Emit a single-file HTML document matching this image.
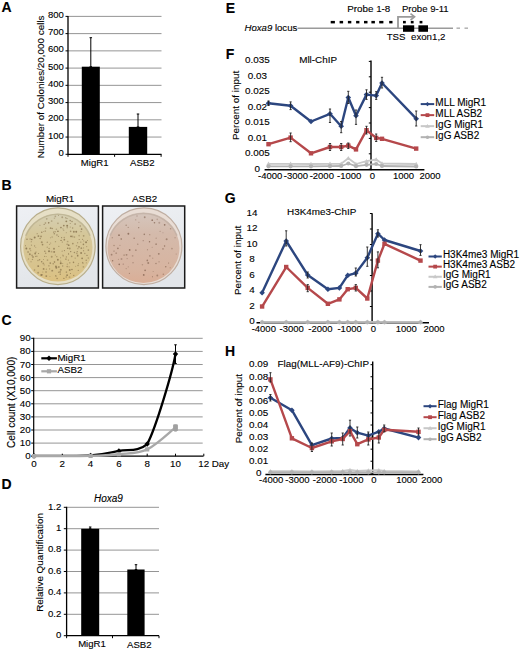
<!DOCTYPE html>
<html><head><meta charset="utf-8"><style>html,body{margin:0;padding:0;background:#fff;width:520px;height:651px;overflow:hidden}svg{display:block}text{font-family:"Liberation Sans",sans-serif;stroke:#000;stroke-width:0.12px;paint-order:stroke}</style></head>
<body><svg width="520" height="651" viewBox="0 0 520 651" font-family="Liberation Sans, sans-serif" fill="#000"><text x="1.50" y="12.30" font-size="14" text-anchor="start" font-weight="bold">A</text>
<text x="1.50" y="190.40" font-size="14" text-anchor="start" font-weight="bold">B</text>
<text x="1.50" y="324.80" font-size="14" text-anchor="start" font-weight="bold">C</text>
<text x="1.50" y="488.80" font-size="14" text-anchor="start" font-weight="bold">D</text>
<text x="225.80" y="12.50" font-size="14" text-anchor="start" font-weight="bold">E</text>
<text x="225.80" y="59.40" font-size="14" text-anchor="start" font-weight="bold">F</text>
<text x="224.80" y="203.00" font-size="14" text-anchor="start" font-weight="bold">G</text>
<text x="225.00" y="355.80" font-size="14" text-anchor="start" font-weight="bold">H</text>
<line x1="68.00" y1="137.06" x2="161.50" y2="137.06" stroke="#959595" stroke-width="1" />
<line x1="68.00" y1="119.82" x2="161.50" y2="119.82" stroke="#959595" stroke-width="1" />
<line x1="68.00" y1="102.58" x2="161.50" y2="102.58" stroke="#959595" stroke-width="1" />
<line x1="68.00" y1="85.34" x2="161.50" y2="85.34" stroke="#959595" stroke-width="1" />
<line x1="68.00" y1="68.10" x2="161.50" y2="68.10" stroke="#959595" stroke-width="1" />
<line x1="68.00" y1="50.86" x2="161.50" y2="50.86" stroke="#959595" stroke-width="1" />
<line x1="68.00" y1="33.62" x2="161.50" y2="33.62" stroke="#959595" stroke-width="1" />
<line x1="68.00" y1="16.38" x2="161.50" y2="16.38" stroke="#959595" stroke-width="1" />
<line x1="65.50" y1="154.30" x2="68.00" y2="154.30" stroke="#000" stroke-width="1" />
<text x="63.80" y="155.80" font-size="9.5" text-anchor="end" >0</text>
<line x1="65.50" y1="137.06" x2="68.00" y2="137.06" stroke="#000" stroke-width="1" />
<text x="63.80" y="138.56" font-size="9.5" text-anchor="end" >100</text>
<line x1="65.50" y1="119.82" x2="68.00" y2="119.82" stroke="#000" stroke-width="1" />
<text x="63.80" y="121.32" font-size="9.5" text-anchor="end" >200</text>
<line x1="65.50" y1="102.58" x2="68.00" y2="102.58" stroke="#000" stroke-width="1" />
<text x="63.80" y="104.08" font-size="9.5" text-anchor="end" >300</text>
<line x1="65.50" y1="85.34" x2="68.00" y2="85.34" stroke="#000" stroke-width="1" />
<text x="63.80" y="86.84" font-size="9.5" text-anchor="end" >400</text>
<line x1="65.50" y1="68.10" x2="68.00" y2="68.10" stroke="#000" stroke-width="1" />
<text x="63.80" y="69.60" font-size="9.5" text-anchor="end" >500</text>
<line x1="65.50" y1="50.86" x2="68.00" y2="50.86" stroke="#000" stroke-width="1" />
<text x="63.80" y="52.36" font-size="9.5" text-anchor="end" >600</text>
<line x1="65.50" y1="33.62" x2="68.00" y2="33.62" stroke="#000" stroke-width="1" />
<text x="63.80" y="35.12" font-size="9.5" text-anchor="end" >700</text>
<line x1="65.50" y1="16.38" x2="68.00" y2="16.38" stroke="#000" stroke-width="1" />
<text x="63.80" y="17.88" font-size="9.5" text-anchor="end" >800</text>
<line x1="68.00" y1="15.88" x2="68.00" y2="154.80" stroke="#000" stroke-width="1.3" />
<line x1="68.00" y1="154.30" x2="161.50" y2="154.30" stroke="#000" stroke-width="1.3" />
<line x1="68.00" y1="154.30" x2="68.00" y2="156.80" stroke="#000" stroke-width="1" />
<line x1="114.60" y1="154.30" x2="114.60" y2="156.80" stroke="#000" stroke-width="1" />
<line x1="161.10" y1="154.30" x2="161.10" y2="156.80" stroke="#000" stroke-width="1" />
<rect x="81.80" y="66.70" width="18.00" height="87.60" fill="#000" />
<rect x="128.80" y="126.90" width="18.40" height="27.40" fill="#000" />
<line x1="90.80" y1="37.70" x2="90.80" y2="66.70" stroke="#000" stroke-width="1" />
<line x1="89.55" y1="37.70" x2="92.05" y2="37.70" stroke="#000" stroke-width="1" />
<line x1="89.55" y1="66.70" x2="92.05" y2="66.70" stroke="#000" stroke-width="1" />
<line x1="138.00" y1="114.00" x2="138.00" y2="126.90" stroke="#000" stroke-width="1" />
<line x1="136.75" y1="114.00" x2="139.25" y2="114.00" stroke="#000" stroke-width="1" />
<line x1="136.75" y1="126.90" x2="139.25" y2="126.90" stroke="#000" stroke-width="1" />
<text x="94.70" y="166.40" font-size="9.6" text-anchor="middle" >MigR1</text>
<text x="142.30" y="166.40" font-size="9.6" text-anchor="middle" >ASB2</text>
<text transform="translate(43.80,86.80) rotate(-90)" font-size="9.9" text-anchor="middle">Number of Colonies/20,000 cells</text>
<line x1="33.70" y1="443.10" x2="202.70" y2="443.10" stroke="#959595" stroke-width="1" />
<line x1="33.70" y1="430.00" x2="202.70" y2="430.00" stroke="#959595" stroke-width="1" />
<line x1="33.70" y1="416.90" x2="202.70" y2="416.90" stroke="#959595" stroke-width="1" />
<line x1="33.70" y1="403.80" x2="202.70" y2="403.80" stroke="#959595" stroke-width="1" />
<line x1="33.70" y1="390.70" x2="202.70" y2="390.70" stroke="#959595" stroke-width="1" />
<line x1="33.70" y1="377.60" x2="202.70" y2="377.60" stroke="#959595" stroke-width="1" />
<line x1="33.70" y1="364.50" x2="202.70" y2="364.50" stroke="#959595" stroke-width="1" />
<line x1="33.70" y1="351.40" x2="202.70" y2="351.40" stroke="#959595" stroke-width="1" />
<line x1="33.70" y1="338.30" x2="202.70" y2="338.30" stroke="#959595" stroke-width="1" />
<line x1="31.20" y1="456.20" x2="33.70" y2="456.20" stroke="#000" stroke-width="1" />
<text x="30.60" y="459.20" font-size="9.8" text-anchor="end" >0</text>
<line x1="31.20" y1="443.10" x2="33.70" y2="443.10" stroke="#000" stroke-width="1" />
<text x="30.60" y="446.10" font-size="9.8" text-anchor="end" >10</text>
<line x1="31.20" y1="430.00" x2="33.70" y2="430.00" stroke="#000" stroke-width="1" />
<text x="30.60" y="433.00" font-size="9.8" text-anchor="end" >20</text>
<line x1="31.20" y1="416.90" x2="33.70" y2="416.90" stroke="#000" stroke-width="1" />
<text x="30.60" y="419.90" font-size="9.8" text-anchor="end" >30</text>
<line x1="31.20" y1="403.80" x2="33.70" y2="403.80" stroke="#000" stroke-width="1" />
<text x="30.60" y="406.80" font-size="9.8" text-anchor="end" >40</text>
<line x1="31.20" y1="390.70" x2="33.70" y2="390.70" stroke="#000" stroke-width="1" />
<text x="30.60" y="393.70" font-size="9.8" text-anchor="end" >50</text>
<line x1="31.20" y1="377.60" x2="33.70" y2="377.60" stroke="#000" stroke-width="1" />
<text x="30.60" y="380.60" font-size="9.8" text-anchor="end" >60</text>
<line x1="31.20" y1="364.50" x2="33.70" y2="364.50" stroke="#000" stroke-width="1" />
<text x="30.60" y="367.50" font-size="9.8" text-anchor="end" >70</text>
<line x1="31.20" y1="351.40" x2="33.70" y2="351.40" stroke="#000" stroke-width="1" />
<text x="30.60" y="354.40" font-size="9.8" text-anchor="end" >80</text>
<line x1="31.20" y1="338.30" x2="33.70" y2="338.30" stroke="#000" stroke-width="1" />
<text x="30.60" y="341.30" font-size="9.8" text-anchor="end" >90</text>
<line x1="33.70" y1="337.80" x2="33.70" y2="456.70" stroke="#000" stroke-width="1.2" />
<line x1="33.70" y1="456.20" x2="203.50" y2="456.20" stroke="#000" stroke-width="1.2" />
<line x1="34.00" y1="456.20" x2="34.00" y2="453.70" stroke="#000" stroke-width="1" />
<text x="34.00" y="467.40" font-size="9.8" text-anchor="middle" >0</text>
<line x1="62.30" y1="456.20" x2="62.30" y2="453.70" stroke="#000" stroke-width="1" />
<text x="62.30" y="467.40" font-size="9.8" text-anchor="middle" >2</text>
<line x1="90.60" y1="456.20" x2="90.60" y2="453.70" stroke="#000" stroke-width="1" />
<text x="90.60" y="467.40" font-size="9.8" text-anchor="middle" >4</text>
<line x1="118.90" y1="456.20" x2="118.90" y2="453.70" stroke="#000" stroke-width="1" />
<text x="118.90" y="467.40" font-size="9.8" text-anchor="middle" >6</text>
<line x1="147.20" y1="456.20" x2="147.20" y2="453.70" stroke="#000" stroke-width="1" />
<text x="147.20" y="467.40" font-size="9.8" text-anchor="middle" >8</text>
<line x1="175.50" y1="456.20" x2="175.50" y2="453.70" stroke="#000" stroke-width="1" />
<text x="175.50" y="467.40" font-size="9.8" text-anchor="middle" >10</text>
<line x1="203.80" y1="456.20" x2="203.80" y2="453.70" stroke="#000" stroke-width="1" />
<text x="203.80" y="467.40" font-size="9.8" text-anchor="middle" >12</text>
<text x="211.80" y="467.40" font-size="9.8" text-anchor="start" >Day</text>
<text transform="translate(15.30,402.30) rotate(-90)" font-size="10" text-anchor="middle">Cell count (X10,000)</text>
<line x1="175.50" y1="344.80" x2="175.50" y2="363.50" stroke="#000" stroke-width="1" />
<line x1="174.25" y1="344.80" x2="176.75" y2="344.80" stroke="#000" stroke-width="1" />
<line x1="174.25" y1="363.50" x2="176.75" y2="363.50" stroke="#000" stroke-width="1" />
<path d="M34.00,455.94 C43.43,455.85 76.45,456.24 90.60,455.41 C104.75,454.58 109.47,452.86 118.90,450.96 C128.33,449.06 137.77,452.16 147.20,444.02 C155.60,428.80 172.60,371.50 175.50,354.02" fill="none" stroke="#000" stroke-width="2.3"/>
<path d="M34.00,453.24 L36.70,455.94 L34.00,458.64 L31.30,455.94Z" fill="#000"/>
<path d="M90.60,452.71 L93.30,455.41 L90.60,458.11 L87.90,455.41Z" fill="#000"/>
<path d="M118.90,448.26 L121.60,450.96 L118.90,453.66 L116.20,450.96Z" fill="#000"/>
<path d="M147.20,441.32 L149.90,444.02 L147.20,446.72 L144.50,444.02Z" fill="#000"/>
<path d="M175.50,351.32 L178.20,354.02 L175.50,356.72 L172.80,354.02Z" fill="#000"/>
<line x1="175.50" y1="425.00" x2="175.50" y2="431.00" stroke="#8a8a8a" stroke-width="1" />
<line x1="174.25" y1="425.00" x2="176.75" y2="425.00" stroke="#8a8a8a" stroke-width="1" />
<line x1="174.25" y1="431.00" x2="176.75" y2="431.00" stroke="#8a8a8a" stroke-width="1" />
<path d="M34.00,456.07 C43.43,456.05 76.45,456.24 90.60,455.94 C104.75,455.63 109.47,455.33 118.90,454.24 C128.33,453.14 137.77,453.86 147.20,449.39 C156.63,444.91 170.78,431.05 175.50,427.38" fill="none" stroke="#a8a8a8" stroke-width="2.3"/>
<rect x="31.90" y="453.97" width="4.20" height="4.20" fill="#a8a8a8" />
<rect x="88.50" y="453.84" width="4.20" height="4.20" fill="#a8a8a8" />
<rect x="116.80" y="452.13" width="4.20" height="4.20" fill="#a8a8a8" />
<rect x="145.10" y="447.29" width="4.20" height="4.20" fill="#a8a8a8" />
<rect x="173.40" y="425.28" width="4.20" height="4.20" fill="#a8a8a8" />
<rect x="173.20" y="424.50" width="4.60" height="6.50" fill="#a0a0a0" />
<line x1="41.30" y1="358.30" x2="56.90" y2="358.30" stroke="#000" stroke-width="2.2" />
<path d="M49,355.6 L51.7,358.3 L49,361 L46.3,358.3Z" fill="#000"/>
<text x="57.40" y="360.70" font-size="9.8" text-anchor="start" >MigR1</text>
<line x1="41.30" y1="371.30" x2="56.90" y2="371.30" stroke="#a8a8a8" stroke-width="2.2" />
<rect x="46.90" y="369.20" width="4.20" height="4.20" fill="#a8a8a8" />
<text x="57.40" y="373.40" font-size="9.8" text-anchor="start" >ASB2</text>
<line x1="66.60" y1="614.30" x2="159.00" y2="614.30" stroke="#959595" stroke-width="1" />
<line x1="66.60" y1="592.90" x2="159.00" y2="592.90" stroke="#959595" stroke-width="1" />
<line x1="66.60" y1="571.50" x2="159.00" y2="571.50" stroke="#959595" stroke-width="1" />
<line x1="66.60" y1="550.10" x2="159.00" y2="550.10" stroke="#959595" stroke-width="1" />
<line x1="66.60" y1="528.70" x2="159.00" y2="528.70" stroke="#959595" stroke-width="1" />
<line x1="66.60" y1="507.30" x2="159.00" y2="507.30" stroke="#959595" stroke-width="1" />
<line x1="63.80" y1="635.70" x2="66.60" y2="635.70" stroke="#000" stroke-width="1" />
<text x="61.30" y="637.90" font-size="9.6" text-anchor="end" >0</text>
<line x1="63.80" y1="614.30" x2="66.60" y2="614.30" stroke="#000" stroke-width="1" />
<text x="61.30" y="616.50" font-size="9.6" text-anchor="end" >0.2</text>
<line x1="63.80" y1="592.90" x2="66.60" y2="592.90" stroke="#000" stroke-width="1" />
<text x="61.30" y="595.10" font-size="9.6" text-anchor="end" >0.4</text>
<line x1="63.80" y1="571.50" x2="66.60" y2="571.50" stroke="#000" stroke-width="1" />
<text x="61.30" y="573.70" font-size="9.6" text-anchor="end" >0.6</text>
<line x1="63.80" y1="550.10" x2="66.60" y2="550.10" stroke="#000" stroke-width="1" />
<text x="61.30" y="552.30" font-size="9.6" text-anchor="end" >0.8</text>
<line x1="63.80" y1="528.70" x2="66.60" y2="528.70" stroke="#000" stroke-width="1" />
<text x="61.30" y="530.90" font-size="9.6" text-anchor="end" >1</text>
<line x1="63.80" y1="507.30" x2="66.60" y2="507.30" stroke="#000" stroke-width="1" />
<text x="61.30" y="509.50" font-size="9.6" text-anchor="end" >1.2</text>
<line x1="66.60" y1="506.80" x2="66.60" y2="636.20" stroke="#000" stroke-width="1.3" />
<line x1="66.60" y1="635.70" x2="159.00" y2="635.70" stroke="#000" stroke-width="1.3" />
<line x1="66.60" y1="635.70" x2="66.60" y2="638.20" stroke="#000" stroke-width="1" />
<line x1="112.50" y1="635.70" x2="112.50" y2="638.20" stroke="#000" stroke-width="1" />
<line x1="159.00" y1="635.70" x2="159.00" y2="638.20" stroke="#000" stroke-width="1" />
<rect x="81.20" y="528.80" width="18.00" height="106.90" fill="#000" />
<rect x="127.30" y="569.50" width="17.30" height="66.20" fill="#000" />
<line x1="90.20" y1="527.00" x2="90.20" y2="528.80" stroke="#000" stroke-width="1" />
<line x1="88.95" y1="527.00" x2="91.45" y2="527.00" stroke="#000" stroke-width="1" />
<line x1="88.95" y1="528.80" x2="91.45" y2="528.80" stroke="#000" stroke-width="1" />
<line x1="136.00" y1="564.70" x2="136.00" y2="569.50" stroke="#000" stroke-width="1" />
<line x1="134.75" y1="564.70" x2="137.25" y2="564.70" stroke="#000" stroke-width="1" />
<line x1="134.75" y1="569.50" x2="137.25" y2="569.50" stroke="#000" stroke-width="1" />
<text x="92.00" y="647.40" font-size="9.6" text-anchor="middle" >MigR1</text>
<text x="139.30" y="648.00" font-size="9.6" text-anchor="middle" >ASB2</text>
<text x="108.40" y="502.20" font-size="10" text-anchor="middle" font-style="italic">Hoxa9</text>
<text transform="translate(42.70,562.40) rotate(-90)" font-size="9.9" text-anchor="middle">Relative Quantification</text>
<text x="244.50" y="31.30" font-size="9.6" text-anchor="start" ><tspan font-style="italic">Hoxa9</tspan> locus</text>
<line x1="297.50" y1="28.20" x2="453.00" y2="28.20" stroke="#9a9a9a" stroke-width="1.6" />
<line x1="456.50" y1="28.20" x2="460.00" y2="28.20" stroke="#b5b5b5" stroke-width="1.6" />
<line x1="464.50" y1="28.20" x2="468.00" y2="28.20" stroke="#b5b5b5" stroke-width="1.6" />
<rect x="330.70" y="20.90" width="4.20" height="2.50" fill="#000" />
<rect x="339.60" y="20.90" width="3.50" height="2.50" fill="#000" />
<rect x="347.90" y="20.90" width="3.40" height="2.50" fill="#000" />
<rect x="356.10" y="20.90" width="3.30" height="2.50" fill="#000" />
<rect x="364.00" y="20.90" width="3.50" height="2.50" fill="#000" />
<rect x="371.40" y="20.90" width="3.50" height="2.50" fill="#000" />
<rect x="379.20" y="20.90" width="4.20" height="2.50" fill="#000" />
<rect x="389.20" y="20.90" width="3.30" height="2.50" fill="#000" />
<rect x="403.00" y="20.90" width="2.80" height="2.50" fill="#000" />
<rect x="410.80" y="20.90" width="2.80" height="2.50" fill="#000" />
<rect x="419.60" y="20.90" width="2.80" height="2.50" fill="#000" />
<path d="M398,28 L398,16.8 L413.5,16.8" fill="none" stroke="#9a9a9a" stroke-width="1.8"/>
<path d="M410.5,13.6 L414.6,16.8 L410.5,20" fill="none" stroke="#9a9a9a" stroke-width="1.6"/>
<rect x="403.00" y="25.30" width="11.20" height="6.50" fill="#000" />
<rect x="418.40" y="25.30" width="9.60" height="6.50" fill="#000" />
<text x="347.30" y="12.40" font-size="9.8" text-anchor="start" >Probe 1-8</text>
<text x="401.90" y="12.30" font-size="9.6" text-anchor="start" >Probe 9-11</text>
<text x="386.70" y="40.30" font-size="9.7" text-anchor="start" >TSS</text>
<text x="411.00" y="40.30" font-size="9.7" text-anchor="start" >exon1,2</text>
<line x1="371.00" y1="60.50" x2="371.00" y2="170.20" stroke="#000" stroke-width="1.4" />
<line x1="368.80" y1="169.20" x2="371.00" y2="169.20" stroke="#000" stroke-width="1" />
<text x="257.30" y="171.94" font-size="9.9" text-anchor="middle" >0</text>
<line x1="368.80" y1="153.80" x2="371.00" y2="153.80" stroke="#000" stroke-width="1" />
<text x="257.30" y="156.44" font-size="9.9" text-anchor="middle" >0.005</text>
<line x1="368.80" y1="138.40" x2="371.00" y2="138.40" stroke="#000" stroke-width="1" />
<text x="257.30" y="140.94" font-size="9.9" text-anchor="middle" >0.01</text>
<line x1="368.80" y1="123.00" x2="371.00" y2="123.00" stroke="#000" stroke-width="1" />
<text x="257.30" y="125.44" font-size="9.9" text-anchor="middle" >0.015</text>
<line x1="368.80" y1="107.60" x2="371.00" y2="107.60" stroke="#000" stroke-width="1" />
<text x="257.30" y="109.94" font-size="9.9" text-anchor="middle" >0.02</text>
<line x1="368.80" y1="92.20" x2="371.00" y2="92.20" stroke="#000" stroke-width="1" />
<text x="257.30" y="94.44" font-size="9.9" text-anchor="middle" >0.025</text>
<line x1="368.80" y1="76.80" x2="371.00" y2="76.80" stroke="#000" stroke-width="1" />
<text x="257.30" y="78.94" font-size="9.9" text-anchor="middle" >0.03</text>
<line x1="368.80" y1="61.40" x2="371.00" y2="61.40" stroke="#000" stroke-width="1" />
<text x="257.30" y="63.44" font-size="9.9" text-anchor="middle" >0.035</text>
<line x1="264.60" y1="169.70" x2="424.40" y2="169.70" stroke="#000" stroke-width="1.5" />
<text x="270.20" y="179.40" font-size="9.5" text-anchor="middle" >-4000</text>
<text x="296.00" y="179.40" font-size="9.5" text-anchor="middle" >-3000</text>
<text x="321.80" y="179.40" font-size="9.5" text-anchor="middle" >-2000</text>
<text x="349.20" y="179.40" font-size="9.5" text-anchor="middle" >-1000</text>
<text x="372.50" y="179.40" font-size="9.5" text-anchor="middle" >0</text>
<text x="403.50" y="179.40" font-size="9.5" text-anchor="middle" >1000</text>
<text x="430.00" y="179.40" font-size="9.5" text-anchor="middle" >2000</text>
<polyline points="268.50,163.80 290.60,163.80 311.00,164.00 330.00,163.80 341.20,163.80 348.30,158.20 356.00,164.00 366.50,161.20 376.20,159.50 382.00,163.50 416.20,164.00" fill="none" stroke="#c8c8c8" stroke-width="1.8" stroke-linejoin="round" />
<path d="M268.50,161.50 L270.80,165.60 L266.20,165.60Z" fill="#c8c8c8"/>
<path d="M290.60,161.50 L292.90,165.60 L288.30,165.60Z" fill="#c8c8c8"/>
<path d="M311.00,161.70 L313.30,165.80 L308.70,165.80Z" fill="#c8c8c8"/>
<path d="M330.00,161.50 L332.30,165.60 L327.70,165.60Z" fill="#c8c8c8"/>
<path d="M341.20,161.50 L343.50,165.60 L338.90,165.60Z" fill="#c8c8c8"/>
<path d="M348.30,155.90 L350.60,160.00 L346.00,160.00Z" fill="#c8c8c8"/>
<path d="M356.00,161.70 L358.30,165.80 L353.70,165.80Z" fill="#c8c8c8"/>
<path d="M366.50,158.90 L368.80,163.00 L364.20,163.00Z" fill="#c8c8c8"/>
<path d="M376.20,157.20 L378.50,161.30 L373.90,161.30Z" fill="#c8c8c8"/>
<path d="M382.00,161.20 L384.30,165.30 L379.70,165.30Z" fill="#c8c8c8"/>
<path d="M416.20,161.70 L418.50,165.80 L413.90,165.80Z" fill="#c8c8c8"/>
<polyline points="268.50,166.30 290.60,166.30 311.00,166.30 330.00,166.20 341.20,166.00 348.30,163.50 356.00,166.20 366.50,164.80 376.20,164.00 382.00,166.00 416.20,166.50" fill="none" stroke="#b2b2b2" stroke-width="1.8" stroke-linejoin="round" />
<circle cx="268.50" cy="166.30" r="2.1" fill="#b2b2b2"/>
<circle cx="290.60" cy="166.30" r="2.1" fill="#b2b2b2"/>
<circle cx="311.00" cy="166.30" r="2.1" fill="#b2b2b2"/>
<circle cx="330.00" cy="166.20" r="2.1" fill="#b2b2b2"/>
<circle cx="341.20" cy="166.00" r="2.1" fill="#b2b2b2"/>
<circle cx="348.30" cy="163.50" r="2.1" fill="#b2b2b2"/>
<circle cx="356.00" cy="166.20" r="2.1" fill="#b2b2b2"/>
<circle cx="366.50" cy="164.80" r="2.1" fill="#b2b2b2"/>
<circle cx="376.20" cy="164.00" r="2.1" fill="#b2b2b2"/>
<circle cx="382.00" cy="166.00" r="2.1" fill="#b2b2b2"/>
<circle cx="416.20" cy="166.50" r="2.1" fill="#b2b2b2"/>
<polyline points="268.50,103.30 290.60,105.80 311.00,121.50 330.00,113.80 341.20,126.30 348.30,97.50 356.00,115.80 366.50,94.60 376.20,95.60 382.00,83.00 416.20,118.70" fill="none" stroke="#2c467f" stroke-width="2.4" stroke-linejoin="round" />
<path d="M268.50,100.50 L271.30,103.30 L268.50,106.10 L265.70,103.30Z" fill="#2c467f"/>
<path d="M290.60,103.00 L293.40,105.80 L290.60,108.60 L287.80,105.80Z" fill="#2c467f"/>
<path d="M311.00,118.70 L313.80,121.50 L311.00,124.30 L308.20,121.50Z" fill="#2c467f"/>
<path d="M330.00,111.00 L332.80,113.80 L330.00,116.60 L327.20,113.80Z" fill="#2c467f"/>
<path d="M341.20,123.50 L344.00,126.30 L341.20,129.10 L338.40,126.30Z" fill="#2c467f"/>
<path d="M348.30,94.70 L351.10,97.50 L348.30,100.30 L345.50,97.50Z" fill="#2c467f"/>
<path d="M356.00,113.00 L358.80,115.80 L356.00,118.60 L353.20,115.80Z" fill="#2c467f"/>
<path d="M366.50,91.80 L369.30,94.60 L366.50,97.40 L363.70,94.60Z" fill="#2c467f"/>
<path d="M376.20,92.80 L379.00,95.60 L376.20,98.40 L373.40,95.60Z" fill="#2c467f"/>
<path d="M382.00,80.20 L384.80,83.00 L382.00,85.80 L379.20,83.00Z" fill="#2c467f"/>
<path d="M416.20,115.90 L419.00,118.70 L416.20,121.50 L413.40,118.70Z" fill="#2c467f"/>
<polyline points="268.50,144.20 290.60,137.60 311.00,153.30 330.00,147.00 341.20,147.00 348.30,145.60 356.00,149.40 366.50,130.20 376.20,137.90 382.00,138.80 416.20,148.60" fill="none" stroke="#b5484b" stroke-width="2.4" stroke-linejoin="round" />
<rect x="266.30" y="142.00" width="4.40" height="4.40" fill="#b5484b" />
<rect x="288.40" y="135.40" width="4.40" height="4.40" fill="#b5484b" />
<rect x="308.80" y="151.10" width="4.40" height="4.40" fill="#b5484b" />
<rect x="327.80" y="144.80" width="4.40" height="4.40" fill="#b5484b" />
<rect x="339.00" y="144.80" width="4.40" height="4.40" fill="#b5484b" />
<rect x="346.10" y="143.40" width="4.40" height="4.40" fill="#b5484b" />
<rect x="353.80" y="147.20" width="4.40" height="4.40" fill="#b5484b" />
<rect x="364.30" y="128.00" width="4.40" height="4.40" fill="#b5484b" />
<rect x="374.00" y="135.70" width="4.40" height="4.40" fill="#b5484b" />
<rect x="379.80" y="136.60" width="4.40" height="4.40" fill="#b5484b" />
<rect x="414.00" y="146.40" width="4.40" height="4.40" fill="#b5484b" />
<line x1="268.50" y1="101.00" x2="268.50" y2="105.50" stroke="#222" stroke-width="0.9" />
<line x1="267.40" y1="101.00" x2="269.60" y2="101.00" stroke="#222" stroke-width="0.9" />
<line x1="267.40" y1="105.50" x2="269.60" y2="105.50" stroke="#222" stroke-width="0.9" />
<line x1="290.60" y1="101.90" x2="290.60" y2="109.60" stroke="#222" stroke-width="0.9" />
<line x1="289.50" y1="101.90" x2="291.70" y2="101.90" stroke="#222" stroke-width="0.9" />
<line x1="289.50" y1="109.60" x2="291.70" y2="109.60" stroke="#222" stroke-width="0.9" />
<line x1="330.00" y1="109.00" x2="330.00" y2="122.50" stroke="#222" stroke-width="0.9" />
<line x1="328.90" y1="109.00" x2="331.10" y2="109.00" stroke="#222" stroke-width="0.9" />
<line x1="328.90" y1="122.50" x2="331.10" y2="122.50" stroke="#222" stroke-width="0.9" />
<line x1="341.20" y1="121.50" x2="341.20" y2="132.70" stroke="#222" stroke-width="0.9" />
<line x1="340.10" y1="121.50" x2="342.30" y2="121.50" stroke="#222" stroke-width="0.9" />
<line x1="340.10" y1="132.70" x2="342.30" y2="132.70" stroke="#222" stroke-width="0.9" />
<line x1="348.30" y1="91.30" x2="348.30" y2="103.50" stroke="#222" stroke-width="0.9" />
<line x1="347.20" y1="91.30" x2="349.40" y2="91.30" stroke="#222" stroke-width="0.9" />
<line x1="347.20" y1="103.50" x2="349.40" y2="103.50" stroke="#222" stroke-width="0.9" />
<line x1="356.00" y1="110.00" x2="356.00" y2="124.40" stroke="#222" stroke-width="0.9" />
<line x1="354.90" y1="110.00" x2="357.10" y2="110.00" stroke="#222" stroke-width="0.9" />
<line x1="354.90" y1="124.40" x2="357.10" y2="124.40" stroke="#222" stroke-width="0.9" />
<line x1="366.50" y1="89.80" x2="366.50" y2="99.40" stroke="#222" stroke-width="0.9" />
<line x1="365.40" y1="89.80" x2="367.60" y2="89.80" stroke="#222" stroke-width="0.9" />
<line x1="365.40" y1="99.40" x2="367.60" y2="99.40" stroke="#222" stroke-width="0.9" />
<line x1="376.20" y1="91.70" x2="376.20" y2="99.40" stroke="#222" stroke-width="0.9" />
<line x1="375.10" y1="91.70" x2="377.30" y2="91.70" stroke="#222" stroke-width="0.9" />
<line x1="375.10" y1="99.40" x2="377.30" y2="99.40" stroke="#222" stroke-width="0.9" />
<line x1="382.00" y1="77.30" x2="382.00" y2="88.00" stroke="#222" stroke-width="0.9" />
<line x1="380.90" y1="77.30" x2="383.10" y2="77.30" stroke="#222" stroke-width="0.9" />
<line x1="380.90" y1="88.00" x2="383.10" y2="88.00" stroke="#222" stroke-width="0.9" />
<line x1="416.20" y1="111.00" x2="416.20" y2="126.00" stroke="#222" stroke-width="0.9" />
<line x1="415.10" y1="111.00" x2="417.30" y2="111.00" stroke="#222" stroke-width="0.9" />
<line x1="415.10" y1="126.00" x2="417.30" y2="126.00" stroke="#222" stroke-width="0.9" />
<line x1="290.60" y1="133.00" x2="290.60" y2="141.70" stroke="#222" stroke-width="0.9" />
<line x1="289.50" y1="133.00" x2="291.70" y2="133.00" stroke="#222" stroke-width="0.9" />
<line x1="289.50" y1="141.70" x2="291.70" y2="141.70" stroke="#222" stroke-width="0.9" />
<line x1="366.50" y1="126.30" x2="366.50" y2="134.00" stroke="#222" stroke-width="0.9" />
<line x1="365.40" y1="126.30" x2="367.60" y2="126.30" stroke="#222" stroke-width="0.9" />
<line x1="365.40" y1="134.00" x2="367.60" y2="134.00" stroke="#222" stroke-width="0.9" />
<line x1="376.20" y1="134.00" x2="376.20" y2="141.50" stroke="#222" stroke-width="0.9" />
<line x1="375.10" y1="134.00" x2="377.30" y2="134.00" stroke="#222" stroke-width="0.9" />
<line x1="375.10" y1="141.50" x2="377.30" y2="141.50" stroke="#222" stroke-width="0.9" />
<line x1="330.00" y1="143.50" x2="330.00" y2="150.50" stroke="#222" stroke-width="0.9" />
<line x1="328.90" y1="143.50" x2="331.10" y2="143.50" stroke="#222" stroke-width="0.9" />
<line x1="328.90" y1="150.50" x2="331.10" y2="150.50" stroke="#222" stroke-width="0.9" />
<line x1="341.20" y1="143.50" x2="341.20" y2="150.50" stroke="#222" stroke-width="0.9" />
<line x1="340.10" y1="143.50" x2="342.30" y2="143.50" stroke="#222" stroke-width="0.9" />
<line x1="340.10" y1="150.50" x2="342.30" y2="150.50" stroke="#222" stroke-width="0.9" />
<line x1="348.30" y1="143.00" x2="348.30" y2="148.50" stroke="#222" stroke-width="0.9" />
<line x1="347.20" y1="143.00" x2="349.40" y2="143.00" stroke="#222" stroke-width="0.9" />
<line x1="347.20" y1="148.50" x2="349.40" y2="148.50" stroke="#222" stroke-width="0.9" />
<line x1="420.70" y1="104.10" x2="434.20" y2="104.10" stroke="#2c467f" stroke-width="2" />
<path d="M427.45,101.90 L429.65,104.10 L427.45,106.30 L425.25,104.10Z" fill="#2c467f"/>
<text x="435.30" y="105.60" font-size="10" text-anchor="start" >MLL MigR1</text>
<line x1="420.70" y1="115.13" x2="434.20" y2="115.13" stroke="#b5484b" stroke-width="2" />
<rect x="425.55" y="113.23" width="3.80" height="3.80" fill="#b5484b" />
<text x="435.30" y="116.63" font-size="10" text-anchor="start" >MLL ASB2</text>
<line x1="420.70" y1="126.16" x2="434.20" y2="126.16" stroke="#c8c8c8" stroke-width="2" />
<path d="M427.45,123.96 L429.75,127.76 L425.15,127.76Z" fill="#c8c8c8"/>
<text x="435.30" y="127.66" font-size="10" text-anchor="start" >IgG MigR1</text>
<line x1="420.70" y1="137.19" x2="434.20" y2="137.19" stroke="#b2b2b2" stroke-width="2" />
<circle cx="427.45" cy="137.19" r="1.8" fill="#b2b2b2"/>
<text x="435.30" y="138.69" font-size="10" text-anchor="start" >IgG ASB2</text>
<text x="299.20" y="62.70" font-size="9.9" text-anchor="start" >Mll-ChIP</text>
<text transform="translate(239.00,105.40) rotate(-90)" font-size="9.9" text-anchor="middle">Percent of input</text>
<line x1="372.10" y1="213.30" x2="372.10" y2="323.30" stroke="#000" stroke-width="1.4" />
<line x1="369.90" y1="322.00" x2="372.10" y2="322.00" stroke="#000" stroke-width="1" />
<text x="252.00" y="324.34" font-size="9.9" text-anchor="middle" >0</text>
<line x1="369.90" y1="306.50" x2="372.10" y2="306.50" stroke="#000" stroke-width="1" />
<text x="252.00" y="308.84" font-size="9.9" text-anchor="middle" >2</text>
<line x1="369.90" y1="291.00" x2="372.10" y2="291.00" stroke="#000" stroke-width="1" />
<text x="252.00" y="293.34" font-size="9.9" text-anchor="middle" >4</text>
<line x1="369.90" y1="275.50" x2="372.10" y2="275.50" stroke="#000" stroke-width="1" />
<text x="252.00" y="277.84" font-size="9.9" text-anchor="middle" >6</text>
<line x1="369.90" y1="260.00" x2="372.10" y2="260.00" stroke="#000" stroke-width="1" />
<text x="252.00" y="262.34" font-size="9.9" text-anchor="middle" >8</text>
<line x1="369.90" y1="244.50" x2="372.10" y2="244.50" stroke="#000" stroke-width="1" />
<text x="252.00" y="246.84" font-size="9.9" text-anchor="middle" >10</text>
<line x1="369.90" y1="229.00" x2="372.10" y2="229.00" stroke="#000" stroke-width="1" />
<text x="252.00" y="231.34" font-size="9.9" text-anchor="middle" >12</text>
<line x1="369.90" y1="213.50" x2="372.10" y2="213.50" stroke="#000" stroke-width="1" />
<text x="252.00" y="215.84" font-size="9.9" text-anchor="middle" >14</text>
<line x1="256.50" y1="322.80" x2="429.00" y2="322.80" stroke="#000" stroke-width="1.5" />
<text x="263.80" y="332.30" font-size="9.5" text-anchor="middle" >-4000</text>
<text x="291.70" y="332.30" font-size="9.5" text-anchor="middle" >-3000</text>
<text x="320.50" y="332.30" font-size="9.5" text-anchor="middle" >-2000</text>
<text x="349.60" y="332.30" font-size="9.5" text-anchor="middle" >-1000</text>
<text x="373.30" y="332.30" font-size="9.5" text-anchor="middle" >0</text>
<text x="406.30" y="332.30" font-size="9.5" text-anchor="middle" >1000</text>
<text x="434.00" y="332.30" font-size="9.5" text-anchor="middle" >2000</text>
<polyline points="262.10,321.80 286.20,321.80 307.70,321.80 327.90,321.80 339.40,321.80 347.70,321.80 355.80,321.80 367.30,321.80 377.90,321.80 384.50,321.80 420.50,321.80" fill="none" stroke="#c8c8c8" stroke-width="1.8" stroke-linejoin="round" />
<path d="M262.10,319.50 L264.40,323.60 L259.80,323.60Z" fill="#c8c8c8"/>
<path d="M286.20,319.50 L288.50,323.60 L283.90,323.60Z" fill="#c8c8c8"/>
<path d="M307.70,319.50 L310.00,323.60 L305.40,323.60Z" fill="#c8c8c8"/>
<path d="M327.90,319.50 L330.20,323.60 L325.60,323.60Z" fill="#c8c8c8"/>
<path d="M339.40,319.50 L341.70,323.60 L337.10,323.60Z" fill="#c8c8c8"/>
<path d="M347.70,319.50 L350.00,323.60 L345.40,323.60Z" fill="#c8c8c8"/>
<path d="M355.80,319.50 L358.10,323.60 L353.50,323.60Z" fill="#c8c8c8"/>
<path d="M367.30,319.50 L369.60,323.60 L365.00,323.60Z" fill="#c8c8c8"/>
<path d="M377.90,319.50 L380.20,323.60 L375.60,323.60Z" fill="#c8c8c8"/>
<path d="M384.50,319.50 L386.80,323.60 L382.20,323.60Z" fill="#c8c8c8"/>
<path d="M420.50,319.50 L422.80,323.60 L418.20,323.60Z" fill="#c8c8c8"/>
<polyline points="262.10,322.30 286.20,322.30 307.70,322.30 327.90,322.30 339.40,322.30 347.70,322.30 355.80,322.30 367.30,322.30 377.90,322.30 384.50,322.30 420.50,322.30" fill="none" stroke="#b2b2b2" stroke-width="1.8" stroke-linejoin="round" />
<circle cx="262.10" cy="322.30" r="2.1" fill="#b2b2b2"/>
<circle cx="286.20" cy="322.30" r="2.1" fill="#b2b2b2"/>
<circle cx="307.70" cy="322.30" r="2.1" fill="#b2b2b2"/>
<circle cx="327.90" cy="322.30" r="2.1" fill="#b2b2b2"/>
<circle cx="339.40" cy="322.30" r="2.1" fill="#b2b2b2"/>
<circle cx="347.70" cy="322.30" r="2.1" fill="#b2b2b2"/>
<circle cx="355.80" cy="322.30" r="2.1" fill="#b2b2b2"/>
<circle cx="367.30" cy="322.30" r="2.1" fill="#b2b2b2"/>
<circle cx="377.90" cy="322.30" r="2.1" fill="#b2b2b2"/>
<circle cx="384.50" cy="322.30" r="2.1" fill="#b2b2b2"/>
<circle cx="420.50" cy="322.30" r="2.1" fill="#b2b2b2"/>
<polyline points="262.10,292.70 286.20,241.00 307.70,275.00 327.90,289.20 339.40,287.90 347.70,275.40 355.80,273.10 367.30,257.70 377.90,233.70 384.50,240.00 420.50,251.00" fill="none" stroke="#2c467f" stroke-width="2.4" stroke-linejoin="round" />
<path d="M262.10,289.90 L264.90,292.70 L262.10,295.50 L259.30,292.70Z" fill="#2c467f"/>
<path d="M286.20,238.20 L289.00,241.00 L286.20,243.80 L283.40,241.00Z" fill="#2c467f"/>
<path d="M307.70,272.20 L310.50,275.00 L307.70,277.80 L304.90,275.00Z" fill="#2c467f"/>
<path d="M327.90,286.40 L330.70,289.20 L327.90,292.00 L325.10,289.20Z" fill="#2c467f"/>
<path d="M339.40,285.10 L342.20,287.90 L339.40,290.70 L336.60,287.90Z" fill="#2c467f"/>
<path d="M347.70,272.60 L350.50,275.40 L347.70,278.20 L344.90,275.40Z" fill="#2c467f"/>
<path d="M355.80,270.30 L358.60,273.10 L355.80,275.90 L353.00,273.10Z" fill="#2c467f"/>
<path d="M367.30,254.90 L370.10,257.70 L367.30,260.50 L364.50,257.70Z" fill="#2c467f"/>
<path d="M377.90,230.90 L380.70,233.70 L377.90,236.50 L375.10,233.70Z" fill="#2c467f"/>
<path d="M384.50,237.20 L387.30,240.00 L384.50,242.80 L381.70,240.00Z" fill="#2c467f"/>
<path d="M420.50,248.20 L423.30,251.00 L420.50,253.80 L417.70,251.00Z" fill="#2c467f"/>
<polyline points="262.10,306.50 286.20,267.00 307.70,287.90 327.90,303.80 339.40,299.40 347.70,289.20 355.80,287.90 367.30,298.50 377.90,260.60 384.50,243.80 420.50,260.60" fill="none" stroke="#b5484b" stroke-width="2.4" stroke-linejoin="round" />
<rect x="259.90" y="304.30" width="4.40" height="4.40" fill="#b5484b" />
<rect x="284.00" y="264.80" width="4.40" height="4.40" fill="#b5484b" />
<rect x="305.50" y="285.70" width="4.40" height="4.40" fill="#b5484b" />
<rect x="325.70" y="301.60" width="4.40" height="4.40" fill="#b5484b" />
<rect x="337.20" y="297.20" width="4.40" height="4.40" fill="#b5484b" />
<rect x="345.50" y="287.00" width="4.40" height="4.40" fill="#b5484b" />
<rect x="353.60" y="285.70" width="4.40" height="4.40" fill="#b5484b" />
<rect x="365.10" y="296.30" width="4.40" height="4.40" fill="#b5484b" />
<rect x="375.70" y="258.40" width="4.40" height="4.40" fill="#b5484b" />
<rect x="382.30" y="241.60" width="4.40" height="4.40" fill="#b5484b" />
<rect x="418.30" y="258.40" width="4.40" height="4.40" fill="#b5484b" />
<line x1="286.20" y1="230.80" x2="286.20" y2="246.00" stroke="#222" stroke-width="0.9" />
<line x1="285.10" y1="230.80" x2="287.30" y2="230.80" stroke="#222" stroke-width="0.9" />
<line x1="285.10" y1="246.00" x2="287.30" y2="246.00" stroke="#222" stroke-width="0.9" />
<line x1="307.70" y1="272.00" x2="307.70" y2="278.00" stroke="#222" stroke-width="0.9" />
<line x1="306.60" y1="272.00" x2="308.80" y2="272.00" stroke="#222" stroke-width="0.9" />
<line x1="306.60" y1="278.00" x2="308.80" y2="278.00" stroke="#222" stroke-width="0.9" />
<line x1="355.80" y1="268.00" x2="355.80" y2="276.00" stroke="#222" stroke-width="0.9" />
<line x1="354.70" y1="268.00" x2="356.90" y2="268.00" stroke="#222" stroke-width="0.9" />
<line x1="354.70" y1="276.00" x2="356.90" y2="276.00" stroke="#222" stroke-width="0.9" />
<line x1="367.30" y1="247.00" x2="367.30" y2="266.30" stroke="#222" stroke-width="0.9" />
<line x1="366.20" y1="247.00" x2="368.40" y2="247.00" stroke="#222" stroke-width="0.9" />
<line x1="366.20" y1="266.30" x2="368.40" y2="266.30" stroke="#222" stroke-width="0.9" />
<line x1="377.90" y1="229.80" x2="377.90" y2="237.00" stroke="#222" stroke-width="0.9" />
<line x1="376.80" y1="229.80" x2="379.00" y2="229.80" stroke="#222" stroke-width="0.9" />
<line x1="376.80" y1="237.00" x2="379.00" y2="237.00" stroke="#222" stroke-width="0.9" />
<line x1="420.50" y1="244.70" x2="420.50" y2="255.40" stroke="#222" stroke-width="0.9" />
<line x1="419.40" y1="244.70" x2="421.60" y2="244.70" stroke="#222" stroke-width="0.9" />
<line x1="419.40" y1="255.40" x2="421.60" y2="255.40" stroke="#222" stroke-width="0.9" />
<line x1="307.70" y1="284.60" x2="307.70" y2="291.70" stroke="#222" stroke-width="0.9" />
<line x1="306.60" y1="284.60" x2="308.80" y2="284.60" stroke="#222" stroke-width="0.9" />
<line x1="306.60" y1="291.70" x2="308.80" y2="291.70" stroke="#222" stroke-width="0.9" />
<line x1="355.80" y1="284.60" x2="355.80" y2="291.00" stroke="#222" stroke-width="0.9" />
<line x1="354.70" y1="284.60" x2="356.90" y2="284.60" stroke="#222" stroke-width="0.9" />
<line x1="354.70" y1="291.00" x2="356.90" y2="291.00" stroke="#222" stroke-width="0.9" />
<line x1="377.90" y1="251.90" x2="377.90" y2="267.80" stroke="#222" stroke-width="0.9" />
<line x1="376.80" y1="251.90" x2="379.00" y2="251.90" stroke="#222" stroke-width="0.9" />
<line x1="376.80" y1="267.80" x2="379.00" y2="267.80" stroke="#222" stroke-width="0.9" />
<line x1="428.50" y1="256.50" x2="441.80" y2="256.50" stroke="#2c467f" stroke-width="2" />
<path d="M435.15,254.30 L437.35,256.50 L435.15,258.70 L432.95,256.50Z" fill="#2c467f"/>
<text x="442.90" y="258.00" font-size="10" text-anchor="start" >H3K4me3 MigR1</text>
<line x1="428.50" y1="266.63" x2="441.80" y2="266.63" stroke="#b5484b" stroke-width="2" />
<rect x="433.25" y="264.73" width="3.80" height="3.80" fill="#b5484b" />
<text x="442.90" y="268.13" font-size="10" text-anchor="start" >H3K4me3 ASB2</text>
<line x1="428.50" y1="276.76" x2="441.80" y2="276.76" stroke="#c8c8c8" stroke-width="2" />
<path d="M435.15,274.56 L437.45,278.36 L432.85,278.36Z" fill="#c8c8c8"/>
<text x="442.90" y="278.26" font-size="10" text-anchor="start" >IgG MigR1</text>
<line x1="428.50" y1="286.89" x2="441.80" y2="286.89" stroke="#b2b2b2" stroke-width="2" />
<circle cx="435.15" cy="286.89" r="1.8" fill="#b2b2b2"/>
<text x="442.90" y="288.39" font-size="10" text-anchor="start" >IgG ASB2</text>
<text x="287.10" y="215.20" font-size="9.9" text-anchor="start" >H3K4me3-ChIP</text>
<text transform="translate(241.30,260.40) rotate(-90)" font-size="9.9" text-anchor="middle">Percent of input</text>
<line x1="372.70" y1="361.50" x2="372.70" y2="474.90" stroke="#000" stroke-width="1.4" />
<line x1="370.50" y1="473.30" x2="372.70" y2="473.30" stroke="#000" stroke-width="1" />
<text x="258.70" y="476.07" font-size="9.9" text-anchor="middle" >0</text>
<line x1="370.50" y1="461.23" x2="372.70" y2="461.23" stroke="#000" stroke-width="1" />
<text x="258.70" y="464.00" font-size="9.9" text-anchor="middle" >0.01</text>
<line x1="370.50" y1="449.16" x2="372.70" y2="449.16" stroke="#000" stroke-width="1" />
<text x="258.70" y="451.93" font-size="9.9" text-anchor="middle" >0.02</text>
<line x1="370.50" y1="437.09" x2="372.70" y2="437.09" stroke="#000" stroke-width="1" />
<text x="258.70" y="439.86" font-size="9.9" text-anchor="middle" >0.03</text>
<line x1="370.50" y1="425.02" x2="372.70" y2="425.02" stroke="#000" stroke-width="1" />
<text x="258.70" y="427.79" font-size="9.9" text-anchor="middle" >0.04</text>
<line x1="370.50" y1="412.95" x2="372.70" y2="412.95" stroke="#000" stroke-width="1" />
<text x="258.70" y="415.72" font-size="9.9" text-anchor="middle" >0.05</text>
<line x1="370.50" y1="400.88" x2="372.70" y2="400.88" stroke="#000" stroke-width="1" />
<text x="258.70" y="403.65" font-size="9.9" text-anchor="middle" >0.06</text>
<line x1="370.50" y1="388.81" x2="372.70" y2="388.81" stroke="#000" stroke-width="1" />
<text x="258.70" y="391.58" font-size="9.9" text-anchor="middle" >0.07</text>
<line x1="370.50" y1="376.74" x2="372.70" y2="376.74" stroke="#000" stroke-width="1" />
<text x="258.70" y="379.51" font-size="9.9" text-anchor="middle" >0.08</text>
<line x1="370.50" y1="364.67" x2="372.70" y2="364.67" stroke="#000" stroke-width="1" />
<text x="258.70" y="367.44" font-size="9.9" text-anchor="middle" >0.09</text>
<line x1="265.40" y1="474.40" x2="423.40" y2="474.40" stroke="#000" stroke-width="1.5" />
<text x="271.20" y="483.40" font-size="9.5" text-anchor="middle" >-4000</text>
<text x="297.50" y="483.40" font-size="9.5" text-anchor="middle" >-3000</text>
<text x="325.00" y="483.40" font-size="9.5" text-anchor="middle" >-2000</text>
<text x="351.50" y="483.40" font-size="9.5" text-anchor="middle" >-1000</text>
<text x="374.00" y="483.40" font-size="9.5" text-anchor="middle" >0</text>
<text x="406.70" y="483.40" font-size="9.5" text-anchor="middle" >1000</text>
<text x="431.70" y="483.40" font-size="9.5" text-anchor="middle" >2000</text>
<polyline points="270.40,471.20 291.90,471.20 311.90,471.40 331.70,471.20 342.70,471.00 350.00,470.00 357.30,471.00 368.30,470.50 378.80,470.20 384.20,471.00 418.50,471.40" fill="none" stroke="#c8c8c8" stroke-width="1.8" stroke-linejoin="round" />
<path d="M270.40,468.90 L272.70,473.00 L268.10,473.00Z" fill="#c8c8c8"/>
<path d="M291.90,468.90 L294.20,473.00 L289.60,473.00Z" fill="#c8c8c8"/>
<path d="M311.90,469.10 L314.20,473.20 L309.60,473.20Z" fill="#c8c8c8"/>
<path d="M331.70,468.90 L334.00,473.00 L329.40,473.00Z" fill="#c8c8c8"/>
<path d="M342.70,468.70 L345.00,472.80 L340.40,472.80Z" fill="#c8c8c8"/>
<path d="M350.00,467.70 L352.30,471.80 L347.70,471.80Z" fill="#c8c8c8"/>
<path d="M357.30,468.70 L359.60,472.80 L355.00,472.80Z" fill="#c8c8c8"/>
<path d="M368.30,468.20 L370.60,472.30 L366.00,472.30Z" fill="#c8c8c8"/>
<path d="M378.80,467.90 L381.10,472.00 L376.50,472.00Z" fill="#c8c8c8"/>
<path d="M384.20,468.70 L386.50,472.80 L381.90,472.80Z" fill="#c8c8c8"/>
<path d="M418.50,469.10 L420.80,473.20 L416.20,473.20Z" fill="#c8c8c8"/>
<polyline points="270.40,472.30 291.90,472.30 311.90,472.30 331.70,472.30 342.70,472.30 350.00,472.30 357.30,472.30 368.30,472.30 378.80,472.30 384.20,472.30 418.50,472.30" fill="none" stroke="#b2b2b2" stroke-width="1.8" stroke-linejoin="round" />
<circle cx="270.40" cy="472.30" r="2.1" fill="#b2b2b2"/>
<circle cx="291.90" cy="472.30" r="2.1" fill="#b2b2b2"/>
<circle cx="311.90" cy="472.30" r="2.1" fill="#b2b2b2"/>
<circle cx="331.70" cy="472.30" r="2.1" fill="#b2b2b2"/>
<circle cx="342.70" cy="472.30" r="2.1" fill="#b2b2b2"/>
<circle cx="350.00" cy="472.30" r="2.1" fill="#b2b2b2"/>
<circle cx="357.30" cy="472.30" r="2.1" fill="#b2b2b2"/>
<circle cx="368.30" cy="472.30" r="2.1" fill="#b2b2b2"/>
<circle cx="378.80" cy="472.30" r="2.1" fill="#b2b2b2"/>
<circle cx="384.20" cy="472.30" r="2.1" fill="#b2b2b2"/>
<circle cx="418.50" cy="472.30" r="2.1" fill="#b2b2b2"/>
<polyline points="270.40,397.70 291.90,410.20 311.90,445.20 331.70,438.50 342.70,438.00 350.00,427.90 357.30,432.70 368.30,435.60 378.80,431.70 384.20,428.50 418.50,437.60" fill="none" stroke="#2c467f" stroke-width="2.4" stroke-linejoin="round" />
<path d="M270.40,394.90 L273.20,397.70 L270.40,400.50 L267.60,397.70Z" fill="#2c467f"/>
<path d="M291.90,407.40 L294.70,410.20 L291.90,413.00 L289.10,410.20Z" fill="#2c467f"/>
<path d="M311.90,442.40 L314.70,445.20 L311.90,448.00 L309.10,445.20Z" fill="#2c467f"/>
<path d="M331.70,435.70 L334.50,438.50 L331.70,441.30 L328.90,438.50Z" fill="#2c467f"/>
<path d="M342.70,435.20 L345.50,438.00 L342.70,440.80 L339.90,438.00Z" fill="#2c467f"/>
<path d="M350.00,425.10 L352.80,427.90 L350.00,430.70 L347.20,427.90Z" fill="#2c467f"/>
<path d="M357.30,429.90 L360.10,432.70 L357.30,435.50 L354.50,432.70Z" fill="#2c467f"/>
<path d="M368.30,432.80 L371.10,435.60 L368.30,438.40 L365.50,435.60Z" fill="#2c467f"/>
<path d="M378.80,428.90 L381.60,431.70 L378.80,434.50 L376.00,431.70Z" fill="#2c467f"/>
<path d="M384.20,425.70 L387.00,428.50 L384.20,431.30 L381.40,428.50Z" fill="#2c467f"/>
<path d="M418.50,434.80 L421.30,437.60 L418.50,440.40 L415.70,437.60Z" fill="#2c467f"/>
<polyline points="270.40,379.40 291.90,438.30 311.90,448.00 331.70,441.30 342.70,439.00 350.00,431.20 357.30,444.20 368.30,439.40 378.80,437.50 384.20,429.80 418.50,431.80" fill="none" stroke="#b5484b" stroke-width="2.4" stroke-linejoin="round" />
<rect x="268.20" y="377.20" width="4.40" height="4.40" fill="#b5484b" />
<rect x="289.70" y="436.10" width="4.40" height="4.40" fill="#b5484b" />
<rect x="309.70" y="445.80" width="4.40" height="4.40" fill="#b5484b" />
<rect x="329.50" y="439.10" width="4.40" height="4.40" fill="#b5484b" />
<rect x="340.50" y="436.80" width="4.40" height="4.40" fill="#b5484b" />
<rect x="347.80" y="429.00" width="4.40" height="4.40" fill="#b5484b" />
<rect x="355.10" y="442.00" width="4.40" height="4.40" fill="#b5484b" />
<rect x="366.10" y="437.20" width="4.40" height="4.40" fill="#b5484b" />
<rect x="376.60" y="435.30" width="4.40" height="4.40" fill="#b5484b" />
<rect x="382.00" y="427.60" width="4.40" height="4.40" fill="#b5484b" />
<rect x="416.30" y="429.60" width="4.40" height="4.40" fill="#b5484b" />
<line x1="270.40" y1="372.70" x2="270.40" y2="382.00" stroke="#222" stroke-width="0.9" />
<line x1="269.30" y1="372.70" x2="271.50" y2="372.70" stroke="#222" stroke-width="0.9" />
<line x1="269.30" y1="382.00" x2="271.50" y2="382.00" stroke="#222" stroke-width="0.9" />
<line x1="270.40" y1="394.50" x2="270.40" y2="401.00" stroke="#222" stroke-width="0.9" />
<line x1="269.30" y1="394.50" x2="271.50" y2="394.50" stroke="#222" stroke-width="0.9" />
<line x1="269.30" y1="401.00" x2="271.50" y2="401.00" stroke="#222" stroke-width="0.9" />
<line x1="311.90" y1="443.00" x2="311.90" y2="451.50" stroke="#222" stroke-width="0.9" />
<line x1="310.80" y1="443.00" x2="313.00" y2="443.00" stroke="#222" stroke-width="0.9" />
<line x1="310.80" y1="451.50" x2="313.00" y2="451.50" stroke="#222" stroke-width="0.9" />
<line x1="331.70" y1="433.00" x2="331.70" y2="446.00" stroke="#222" stroke-width="0.9" />
<line x1="330.60" y1="433.00" x2="332.80" y2="433.00" stroke="#222" stroke-width="0.9" />
<line x1="330.60" y1="446.00" x2="332.80" y2="446.00" stroke="#222" stroke-width="0.9" />
<line x1="342.70" y1="433.00" x2="342.70" y2="445.00" stroke="#222" stroke-width="0.9" />
<line x1="341.60" y1="433.00" x2="343.80" y2="433.00" stroke="#222" stroke-width="0.9" />
<line x1="341.60" y1="445.00" x2="343.80" y2="445.00" stroke="#222" stroke-width="0.9" />
<line x1="350.00" y1="420.20" x2="350.00" y2="436.00" stroke="#222" stroke-width="0.9" />
<line x1="348.90" y1="420.20" x2="351.10" y2="420.20" stroke="#222" stroke-width="0.9" />
<line x1="348.90" y1="436.00" x2="351.10" y2="436.00" stroke="#222" stroke-width="0.9" />
<line x1="357.30" y1="427.00" x2="357.30" y2="438.00" stroke="#222" stroke-width="0.9" />
<line x1="356.20" y1="427.00" x2="358.40" y2="427.00" stroke="#222" stroke-width="0.9" />
<line x1="356.20" y1="438.00" x2="358.40" y2="438.00" stroke="#222" stroke-width="0.9" />
<line x1="368.30" y1="432.00" x2="368.30" y2="445.00" stroke="#222" stroke-width="0.9" />
<line x1="367.20" y1="432.00" x2="369.40" y2="432.00" stroke="#222" stroke-width="0.9" />
<line x1="367.20" y1="445.00" x2="369.40" y2="445.00" stroke="#222" stroke-width="0.9" />
<line x1="378.80" y1="432.00" x2="378.80" y2="443.00" stroke="#222" stroke-width="0.9" />
<line x1="377.70" y1="432.00" x2="379.90" y2="432.00" stroke="#222" stroke-width="0.9" />
<line x1="377.70" y1="443.00" x2="379.90" y2="443.00" stroke="#222" stroke-width="0.9" />
<line x1="384.20" y1="425.00" x2="384.20" y2="432.00" stroke="#222" stroke-width="0.9" />
<line x1="383.10" y1="425.00" x2="385.30" y2="425.00" stroke="#222" stroke-width="0.9" />
<line x1="383.10" y1="432.00" x2="385.30" y2="432.00" stroke="#222" stroke-width="0.9" />
<line x1="418.50" y1="428.00" x2="418.50" y2="435.00" stroke="#222" stroke-width="0.9" />
<line x1="417.40" y1="428.00" x2="419.60" y2="428.00" stroke="#222" stroke-width="0.9" />
<line x1="417.40" y1="435.00" x2="419.60" y2="435.00" stroke="#222" stroke-width="0.9" />
<line x1="423.50" y1="406.20" x2="436.60" y2="406.20" stroke="#2c467f" stroke-width="2" />
<path d="M430.05,404.00 L432.25,406.20 L430.05,408.40 L427.85,406.20Z" fill="#2c467f"/>
<text x="437.70" y="407.70" font-size="10" text-anchor="start" >Flag MigR1</text>
<line x1="423.50" y1="417.20" x2="436.60" y2="417.20" stroke="#b5484b" stroke-width="2" />
<rect x="428.15" y="415.30" width="3.80" height="3.80" fill="#b5484b" />
<text x="437.70" y="418.70" font-size="10" text-anchor="start" >Flag ASB2</text>
<line x1="423.50" y1="428.20" x2="436.60" y2="428.20" stroke="#c8c8c8" stroke-width="2" />
<path d="M430.05,426.00 L432.35,429.80 L427.75,429.80Z" fill="#c8c8c8"/>
<text x="437.70" y="429.70" font-size="10" text-anchor="start" >IgG MigR1</text>
<line x1="423.50" y1="439.20" x2="436.60" y2="439.20" stroke="#b2b2b2" stroke-width="2" />
<circle cx="430.05" cy="439.20" r="1.8" fill="#b2b2b2"/>
<text x="437.70" y="440.70" font-size="10" text-anchor="start" >IgG ASB2</text>
<text x="277.50" y="367.30" font-size="9.9" text-anchor="start" >Flag(MLL-AF9)-ChIP</text>
<text transform="translate(241.50,408.70) rotate(-90)" font-size="9.9" text-anchor="middle">Percent of input</text>
<defs><linearGradient id="gy" x1="0" y1="0" x2="0" y2="1"><stop offset="0" stop-color="#d5cfb4"/><stop offset="0.3" stop-color="#d5c79a"/><stop offset="0.8" stop-color="#d8c38c"/><stop offset="1" stop-color="#dcc080"/></linearGradient><linearGradient id="gp" x1="0" y1="0" x2="0" y2="1"><stop offset="0" stop-color="#d5c6bd"/><stop offset="0.3" stop-color="#d4baab"/><stop offset="0.8" stop-color="#d7b4a0"/><stop offset="1" stop-color="#daae96"/></linearGradient><linearGradient id="bg" x1="0" y1="0" x2="0.3" y2="1"><stop offset="0" stop-color="#eef0f4"/><stop offset="0.5" stop-color="#e8ebef"/><stop offset="1" stop-color="#e2e5e9"/></linearGradient><filter id="soft" x="-5%" y="-5%" width="110%" height="110%"><feGaussianBlur stdDeviation="0.4"/></filter></defs>
<rect x="16.60" y="206.00" width="81.80" height="82.00" fill="url(#bg)" stroke="#1a1a1a" stroke-width="1.5"/>
<ellipse cx="57.9" cy="246.3" rx="37.3" ry="38.4" fill="#e6dfc6" stroke="#b8ae8c" stroke-width="1.2"/>
<ellipse cx="57.9" cy="247.6" rx="34.6" ry="34" fill="url(#gy)"/>
<path d="M25.72,235.70 A34.60,34.00 0 0 1 90.08,235.70" fill="none" stroke="#b8ae8c" stroke-width="1.6" opacity="0.7" filter="url(#soft)"/>
<g filter="url(#soft)">
<circle cx="55.35" cy="216.36" r="0.87" fill="#7a6440" opacity="0.40"/>
<circle cx="58.48" cy="215.50" r="0.61" fill="#7a6440" opacity="0.46"/>
<circle cx="62.23" cy="217.29" r="0.94" fill="#7a6440" opacity="0.43"/>
<circle cx="65.76" cy="217.78" r="0.63" fill="#7a6440" opacity="0.66"/>
<circle cx="46.75" cy="218.86" r="0.86" fill="#7a6440" opacity="0.38"/>
<circle cx="54.43" cy="218.14" r="0.72" fill="#7a6440" opacity="0.37"/>
<circle cx="67.02" cy="218.46" r="0.51" fill="#7a6440" opacity="0.71"/>
<circle cx="70.22" cy="220.61" r="0.82" fill="#7a6440" opacity="0.54"/>
<circle cx="45.41" cy="222.95" r="0.80" fill="#7a6440" opacity="0.54"/>
<circle cx="48.70" cy="222.82" r="0.81" fill="#7a6440" opacity="0.72"/>
<circle cx="51.66" cy="221.02" r="0.84" fill="#7a6440" opacity="0.43"/>
<circle cx="57.95" cy="223.32" r="0.83" fill="#7a6440" opacity="0.43"/>
<circle cx="66.32" cy="221.35" r="0.92" fill="#7a6440" opacity="0.69"/>
<circle cx="70.25" cy="223.47" r="0.58" fill="#7a6440" opacity="0.53"/>
<circle cx="72.01" cy="221.55" r="0.81" fill="#7a6440" opacity="0.55"/>
<circle cx="39.92" cy="225.14" r="0.51" fill="#7a6440" opacity="0.54"/>
<circle cx="44.16" cy="224.36" r="0.67" fill="#7a6440" opacity="0.63"/>
<circle cx="63.81" cy="225.59" r="0.86" fill="#7a6440" opacity="0.68"/>
<circle cx="67.17" cy="225.77" r="0.95" fill="#7a6440" opacity="0.74"/>
<circle cx="75.10" cy="224.11" r="0.78" fill="#7a6440" opacity="0.66"/>
<circle cx="80.16" cy="225.98" r="0.67" fill="#7a6440" opacity="0.67"/>
<circle cx="45.72" cy="228.19" r="0.80" fill="#7a6440" opacity="0.36"/>
<circle cx="50.63" cy="228.14" r="0.90" fill="#7a6440" opacity="0.58"/>
<circle cx="52.28" cy="228.60" r="0.77" fill="#7a6440" opacity="0.52"/>
<circle cx="56.39" cy="229.21" r="0.74" fill="#7a6440" opacity="0.40"/>
<circle cx="60.94" cy="227.62" r="0.81" fill="#7a6440" opacity="0.72"/>
<circle cx="62.93" cy="228.83" r="0.60" fill="#7a6440" opacity="0.44"/>
<circle cx="67.29" cy="227.64" r="0.81" fill="#7a6440" opacity="0.39"/>
<circle cx="70.30" cy="227.12" r="0.63" fill="#7a6440" opacity="0.43"/>
<circle cx="72.68" cy="227.93" r="0.71" fill="#7a6440" opacity="0.56"/>
<circle cx="81.59" cy="229.03" r="0.87" fill="#7a6440" opacity="0.67"/>
<circle cx="41.77" cy="232.22" r="0.75" fill="#7a6440" opacity="0.65"/>
<circle cx="43.61" cy="231.48" r="0.54" fill="#7a6440" opacity="0.39"/>
<circle cx="45.29" cy="231.13" r="0.78" fill="#7a6440" opacity="0.41"/>
<circle cx="53.58" cy="232.11" r="0.53" fill="#7a6440" opacity="0.73"/>
<circle cx="55.10" cy="231.69" r="0.73" fill="#7a6440" opacity="0.56"/>
<circle cx="57.92" cy="231.26" r="0.85" fill="#7a6440" opacity="0.69"/>
<circle cx="63.65" cy="230.20" r="0.76" fill="#7a6440" opacity="0.36"/>
<circle cx="70.64" cy="231.34" r="0.80" fill="#7a6440" opacity="0.55"/>
<circle cx="73.86" cy="231.80" r="0.96" fill="#7a6440" opacity="0.65"/>
<circle cx="76.23" cy="231.82" r="0.95" fill="#7a6440" opacity="0.70"/>
<circle cx="81.05" cy="231.58" r="0.67" fill="#7a6440" opacity="0.54"/>
<circle cx="37.16" cy="233.64" r="0.60" fill="#7a6440" opacity="0.50"/>
<circle cx="54.31" cy="233.83" r="0.75" fill="#7a6440" opacity="0.59"/>
<circle cx="56.95" cy="235.06" r="0.76" fill="#7a6440" opacity="0.59"/>
<circle cx="66.27" cy="232.63" r="0.52" fill="#7a6440" opacity="0.41"/>
<circle cx="34.69" cy="237.53" r="1.00" fill="#7a6440" opacity="0.73"/>
<circle cx="38.41" cy="236.12" r="0.95" fill="#7a6440" opacity="0.66"/>
<circle cx="41.03" cy="236.43" r="0.84" fill="#7a6440" opacity="0.58"/>
<circle cx="50.49" cy="237.79" r="0.53" fill="#7a6440" opacity="0.46"/>
<circle cx="52.10" cy="237.12" r="0.77" fill="#7a6440" opacity="0.38"/>
<circle cx="58.44" cy="236.47" r="0.61" fill="#7a6440" opacity="0.49"/>
<circle cx="61.64" cy="237.68" r="0.56" fill="#7a6440" opacity="0.67"/>
<circle cx="64.22" cy="237.50" r="0.71" fill="#7a6440" opacity="0.45"/>
<circle cx="70.98" cy="236.34" r="0.87" fill="#7a6440" opacity="0.72"/>
<circle cx="72.41" cy="236.46" r="0.94" fill="#7a6440" opacity="0.38"/>
<circle cx="74.41" cy="236.97" r="0.84" fill="#7a6440" opacity="0.47"/>
<circle cx="79.12" cy="235.69" r="0.83" fill="#7a6440" opacity="0.38"/>
<circle cx="83.63" cy="235.87" r="0.86" fill="#7a6440" opacity="0.50"/>
<circle cx="26.99" cy="239.19" r="0.70" fill="#7a6440" opacity="0.72"/>
<circle cx="30.13" cy="239.04" r="0.68" fill="#7a6440" opacity="0.50"/>
<circle cx="31.73" cy="239.41" r="0.78" fill="#7a6440" opacity="0.67"/>
<circle cx="40.13" cy="238.45" r="0.77" fill="#7a6440" opacity="0.58"/>
<circle cx="61.06" cy="240.39" r="0.67" fill="#7a6440" opacity="0.74"/>
<circle cx="64.35" cy="239.68" r="0.86" fill="#7a6440" opacity="0.63"/>
<circle cx="79.19" cy="239.50" r="0.57" fill="#7a6440" opacity="0.65"/>
<circle cx="82.58" cy="239.38" r="0.60" fill="#7a6440" opacity="0.52"/>
<circle cx="83.66" cy="240.93" r="0.65" fill="#7a6440" opacity="0.40"/>
<circle cx="87.49" cy="240.42" r="0.53" fill="#7a6440" opacity="0.53"/>
<circle cx="31.28" cy="241.78" r="0.59" fill="#7a6440" opacity="0.65"/>
<circle cx="41.78" cy="242.19" r="0.98" fill="#7a6440" opacity="0.54"/>
<circle cx="47.29" cy="242.30" r="0.76" fill="#7a6440" opacity="0.46"/>
<circle cx="50.68" cy="243.01" r="0.51" fill="#7a6440" opacity="0.54"/>
<circle cx="55.48" cy="241.71" r="0.66" fill="#7a6440" opacity="0.45"/>
<circle cx="62.29" cy="241.99" r="0.58" fill="#7a6440" opacity="0.66"/>
<circle cx="67.64" cy="241.51" r="0.86" fill="#7a6440" opacity="0.39"/>
<circle cx="72.83" cy="243.53" r="0.89" fill="#7a6440" opacity="0.52"/>
<circle cx="77.64" cy="242.71" r="0.58" fill="#7a6440" opacity="0.68"/>
<circle cx="80.81" cy="242.11" r="0.65" fill="#7a6440" opacity="0.54"/>
<circle cx="86.07" cy="242.32" r="0.98" fill="#7a6440" opacity="0.68"/>
<circle cx="25.51" cy="245.67" r="0.51" fill="#7a6440" opacity="0.75"/>
<circle cx="31.45" cy="245.18" r="0.65" fill="#7a6440" opacity="0.48"/>
<circle cx="34.62" cy="245.94" r="0.60" fill="#7a6440" opacity="0.64"/>
<circle cx="42.54" cy="244.56" r="0.84" fill="#7a6440" opacity="0.63"/>
<circle cx="49.64" cy="244.43" r="0.58" fill="#7a6440" opacity="0.40"/>
<circle cx="58.80" cy="246.34" r="0.67" fill="#7a6440" opacity="0.51"/>
<circle cx="67.08" cy="244.24" r="0.67" fill="#7a6440" opacity="0.61"/>
<circle cx="68.67" cy="245.18" r="0.89" fill="#7a6440" opacity="0.68"/>
<circle cx="76.55" cy="245.63" r="0.75" fill="#7a6440" opacity="0.41"/>
<circle cx="78.96" cy="246.77" r="0.86" fill="#7a6440" opacity="0.68"/>
<circle cx="83.41" cy="244.41" r="0.79" fill="#7a6440" opacity="0.63"/>
<circle cx="86.65" cy="246.62" r="0.73" fill="#7a6440" opacity="0.40"/>
<circle cx="26.36" cy="248.56" r="0.95" fill="#7a6440" opacity="0.75"/>
<circle cx="29.93" cy="248.66" r="0.91" fill="#7a6440" opacity="0.47"/>
<circle cx="35.76" cy="247.58" r="0.54" fill="#7a6440" opacity="0.36"/>
<circle cx="47.29" cy="247.14" r="0.73" fill="#7a6440" opacity="0.41"/>
<circle cx="49.10" cy="248.58" r="0.76" fill="#7a6440" opacity="0.46"/>
<circle cx="53.99" cy="248.85" r="0.98" fill="#7a6440" opacity="0.59"/>
<circle cx="67.73" cy="248.16" r="0.78" fill="#7a6440" opacity="0.71"/>
<circle cx="69.77" cy="248.47" r="0.95" fill="#7a6440" opacity="0.48"/>
<circle cx="77.89" cy="248.64" r="0.56" fill="#7a6440" opacity="0.53"/>
<circle cx="81.31" cy="248.13" r="0.85" fill="#7a6440" opacity="0.56"/>
<circle cx="83.52" cy="247.89" r="0.62" fill="#7a6440" opacity="0.38"/>
<circle cx="28.05" cy="252.06" r="0.77" fill="#7a6440" opacity="0.73"/>
<circle cx="30.70" cy="250.63" r="0.66" fill="#7a6440" opacity="0.38"/>
<circle cx="35.93" cy="252.12" r="0.68" fill="#7a6440" opacity="0.58"/>
<circle cx="44.85" cy="251.23" r="0.65" fill="#7a6440" opacity="0.72"/>
<circle cx="49.02" cy="251.23" r="0.94" fill="#7a6440" opacity="0.75"/>
<circle cx="51.52" cy="251.65" r="0.94" fill="#7a6440" opacity="0.37"/>
<circle cx="54.17" cy="251.89" r="0.95" fill="#7a6440" opacity="0.70"/>
<circle cx="62.14" cy="251.16" r="0.61" fill="#7a6440" opacity="0.47"/>
<circle cx="64.45" cy="250.51" r="0.62" fill="#7a6440" opacity="0.62"/>
<circle cx="70.70" cy="251.53" r="0.65" fill="#7a6440" opacity="0.72"/>
<circle cx="74.43" cy="252.56" r="0.76" fill="#7a6440" opacity="0.56"/>
<circle cx="77.21" cy="251.56" r="0.63" fill="#7a6440" opacity="0.67"/>
<circle cx="83.54" cy="250.72" r="0.59" fill="#7a6440" opacity="0.71"/>
<circle cx="88.37" cy="250.08" r="0.88" fill="#7a6440" opacity="0.50"/>
<circle cx="29.84" cy="254.24" r="0.92" fill="#7a6440" opacity="0.62"/>
<circle cx="32.05" cy="255.38" r="0.89" fill="#7a6440" opacity="0.42"/>
<circle cx="35.18" cy="253.51" r="0.89" fill="#7a6440" opacity="0.66"/>
<circle cx="38.56" cy="253.51" r="0.61" fill="#7a6440" opacity="0.58"/>
<circle cx="45.66" cy="253.29" r="0.75" fill="#7a6440" opacity="0.52"/>
<circle cx="55.31" cy="254.96" r="0.57" fill="#7a6440" opacity="0.47"/>
<circle cx="62.83" cy="255.04" r="0.63" fill="#7a6440" opacity="0.41"/>
<circle cx="68.55" cy="253.97" r="0.61" fill="#7a6440" opacity="0.74"/>
<circle cx="76.77" cy="253.27" r="0.87" fill="#7a6440" opacity="0.37"/>
<circle cx="77.72" cy="255.22" r="0.70" fill="#7a6440" opacity="0.47"/>
<circle cx="81.10" cy="253.09" r="1.00" fill="#7a6440" opacity="0.66"/>
<circle cx="84.81" cy="253.49" r="0.78" fill="#7a6440" opacity="0.45"/>
<circle cx="87.00" cy="255.33" r="0.67" fill="#7a6440" opacity="0.74"/>
<circle cx="33.01" cy="257.00" r="0.92" fill="#7a6440" opacity="0.50"/>
<circle cx="35.63" cy="256.36" r="0.59" fill="#7a6440" opacity="0.57"/>
<circle cx="36.92" cy="256.33" r="0.73" fill="#7a6440" opacity="0.47"/>
<circle cx="44.55" cy="256.33" r="0.54" fill="#7a6440" opacity="0.63"/>
<circle cx="46.14" cy="256.51" r="0.59" fill="#7a6440" opacity="0.45"/>
<circle cx="51.70" cy="256.74" r="0.97" fill="#7a6440" opacity="0.49"/>
<circle cx="56.85" cy="256.64" r="0.54" fill="#7a6440" opacity="0.70"/>
<circle cx="60.54" cy="257.81" r="0.53" fill="#7a6440" opacity="0.51"/>
<circle cx="63.22" cy="255.90" r="0.80" fill="#7a6440" opacity="0.36"/>
<circle cx="66.31" cy="256.90" r="0.57" fill="#7a6440" opacity="0.63"/>
<circle cx="71.68" cy="256.33" r="0.86" fill="#7a6440" opacity="0.51"/>
<circle cx="75.20" cy="258.06" r="0.65" fill="#7a6440" opacity="0.49"/>
<circle cx="77.66" cy="255.90" r="0.82" fill="#7a6440" opacity="0.58"/>
<circle cx="82.11" cy="258.34" r="0.84" fill="#7a6440" opacity="0.72"/>
<circle cx="88.29" cy="258.06" r="0.82" fill="#7a6440" opacity="0.39"/>
<circle cx="28.53" cy="259.11" r="0.74" fill="#7a6440" opacity="0.42"/>
<circle cx="32.43" cy="259.32" r="0.67" fill="#7a6440" opacity="0.52"/>
<circle cx="37.94" cy="260.52" r="0.70" fill="#7a6440" opacity="0.50"/>
<circle cx="39.56" cy="259.75" r="0.75" fill="#7a6440" opacity="0.58"/>
<circle cx="43.52" cy="259.54" r="0.51" fill="#7a6440" opacity="0.49"/>
<circle cx="47.52" cy="260.17" r="0.83" fill="#7a6440" opacity="0.42"/>
<circle cx="57.87" cy="259.78" r="0.91" fill="#7a6440" opacity="0.70"/>
<circle cx="60.69" cy="261.07" r="0.57" fill="#7a6440" opacity="0.55"/>
<circle cx="65.89" cy="259.20" r="0.84" fill="#7a6440" opacity="0.44"/>
<circle cx="68.40" cy="260.11" r="0.62" fill="#7a6440" opacity="0.55"/>
<circle cx="86.21" cy="260.32" r="0.78" fill="#7a6440" opacity="0.50"/>
<circle cx="31.02" cy="261.76" r="0.55" fill="#7a6440" opacity="0.63"/>
<circle cx="41.67" cy="261.73" r="0.75" fill="#7a6440" opacity="0.67"/>
<circle cx="43.32" cy="263.46" r="0.86" fill="#7a6440" opacity="0.48"/>
<circle cx="50.26" cy="263.08" r="0.85" fill="#7a6440" opacity="0.60"/>
<circle cx="53.16" cy="263.69" r="0.69" fill="#7a6440" opacity="0.62"/>
<circle cx="54.50" cy="262.08" r="0.79" fill="#7a6440" opacity="0.73"/>
<circle cx="60.79" cy="263.24" r="0.97" fill="#7a6440" opacity="0.75"/>
<circle cx="62.72" cy="263.46" r="0.52" fill="#7a6440" opacity="0.46"/>
<circle cx="67.40" cy="264.19" r="0.67" fill="#7a6440" opacity="0.36"/>
<circle cx="69.81" cy="262.86" r="0.65" fill="#7a6440" opacity="0.67"/>
<circle cx="73.48" cy="262.34" r="0.81" fill="#7a6440" opacity="0.66"/>
<circle cx="78.52" cy="263.68" r="0.59" fill="#7a6440" opacity="0.39"/>
<circle cx="82.43" cy="262.25" r="0.56" fill="#7a6440" opacity="0.48"/>
<circle cx="82.95" cy="263.07" r="0.81" fill="#7a6440" opacity="0.46"/>
<circle cx="86.39" cy="262.85" r="0.63" fill="#7a6440" opacity="0.37"/>
<circle cx="38.21" cy="266.12" r="0.97" fill="#7a6440" opacity="0.70"/>
<circle cx="44.19" cy="264.95" r="0.58" fill="#7a6440" opacity="0.40"/>
<circle cx="48.90" cy="265.84" r="0.61" fill="#7a6440" opacity="0.73"/>
<circle cx="55.96" cy="266.41" r="0.90" fill="#7a6440" opacity="0.68"/>
<circle cx="58.80" cy="267.07" r="0.98" fill="#7a6440" opacity="0.51"/>
<circle cx="62.66" cy="266.00" r="0.69" fill="#7a6440" opacity="0.50"/>
<circle cx="67.21" cy="266.61" r="0.82" fill="#7a6440" opacity="0.49"/>
<circle cx="69.12" cy="266.86" r="0.55" fill="#7a6440" opacity="0.48"/>
<circle cx="75.62" cy="266.27" r="0.55" fill="#7a6440" opacity="0.41"/>
<circle cx="78.01" cy="265.62" r="0.75" fill="#7a6440" opacity="0.51"/>
<circle cx="83.43" cy="266.79" r="0.88" fill="#7a6440" opacity="0.39"/>
<circle cx="34.53" cy="269.98" r="0.82" fill="#7a6440" opacity="0.50"/>
<circle cx="43.61" cy="268.88" r="0.92" fill="#7a6440" opacity="0.63"/>
<circle cx="46.38" cy="269.13" r="0.69" fill="#7a6440" opacity="0.44"/>
<circle cx="49.66" cy="268.89" r="0.52" fill="#7a6440" opacity="0.60"/>
<circle cx="56.33" cy="267.79" r="1.00" fill="#7a6440" opacity="0.65"/>
<circle cx="60.74" cy="269.66" r="1.00" fill="#7a6440" opacity="0.55"/>
<circle cx="69.73" cy="269.99" r="0.94" fill="#7a6440" opacity="0.63"/>
<circle cx="71.95" cy="269.50" r="0.77" fill="#7a6440" opacity="0.70"/>
<circle cx="38.11" cy="272.65" r="0.99" fill="#7a6440" opacity="0.43"/>
<circle cx="42.81" cy="272.04" r="0.51" fill="#7a6440" opacity="0.49"/>
<circle cx="46.02" cy="271.94" r="0.80" fill="#7a6440" opacity="0.63"/>
<circle cx="52.21" cy="270.63" r="0.97" fill="#7a6440" opacity="0.59"/>
<circle cx="58.60" cy="272.22" r="0.66" fill="#7a6440" opacity="0.51"/>
<circle cx="60.08" cy="271.94" r="0.91" fill="#7a6440" opacity="0.51"/>
<circle cx="66.40" cy="272.13" r="0.79" fill="#7a6440" opacity="0.46"/>
<circle cx="78.27" cy="270.46" r="0.64" fill="#7a6440" opacity="0.53"/>
<circle cx="41.28" cy="274.94" r="0.95" fill="#7a6440" opacity="0.73"/>
<circle cx="42.36" cy="274.85" r="0.68" fill="#7a6440" opacity="0.54"/>
<circle cx="55.72" cy="275.80" r="0.73" fill="#7a6440" opacity="0.51"/>
<circle cx="60.24" cy="274.16" r="0.70" fill="#7a6440" opacity="0.65"/>
<circle cx="67.12" cy="275.13" r="0.91" fill="#7a6440" opacity="0.64"/>
<circle cx="70.42" cy="273.51" r="0.51" fill="#7a6440" opacity="0.69"/>
<circle cx="73.76" cy="275.53" r="0.68" fill="#7a6440" opacity="0.56"/>
<circle cx="46.27" cy="276.12" r="0.91" fill="#7a6440" opacity="0.64"/>
<circle cx="49.95" cy="276.50" r="0.51" fill="#7a6440" opacity="0.39"/>
<circle cx="56.11" cy="276.22" r="0.54" fill="#7a6440" opacity="0.45"/>
<circle cx="57.09" cy="278.49" r="0.74" fill="#7a6440" opacity="0.61"/>
<circle cx="63.90" cy="278.45" r="0.65" fill="#7a6440" opacity="0.65"/>
<circle cx="66.17" cy="277.06" r="0.74" fill="#7a6440" opacity="0.49"/>
<circle cx="69.52" cy="277.27" r="0.92" fill="#7a6440" opacity="0.37"/>
</g>
<text x="60.10" y="201.90" font-size="9.8" text-anchor="middle" >MigR1</text>
<rect x="102.60" y="206.00" width="82.10" height="82.00" fill="url(#bg)" stroke="#1a1a1a" stroke-width="1.5"/>
<ellipse cx="143.9" cy="246.3" rx="38" ry="38.4" fill="#e9ddd5" stroke="#bfaea2" stroke-width="1.2"/>
<ellipse cx="143.5" cy="247.9" rx="36" ry="35.1" fill="url(#gp)"/>
<path d="M110.02,235.62 A36.00,35.10 0 0 1 176.98,235.62" fill="none" stroke="#bfaea2" stroke-width="1.6" opacity="0.7" filter="url(#soft)"/>
<g filter="url(#soft)">
<circle cx="135.68" cy="219.84" r="0.68" fill="#7a5a48" opacity="0.42"/>
<circle cx="137.04" cy="215.96" r="0.80" fill="#7a5a48" opacity="0.35"/>
<circle cx="144.73" cy="217.24" r="0.91" fill="#7a5a48" opacity="0.54"/>
<circle cx="152.23" cy="220.22" r="0.87" fill="#7a5a48" opacity="0.69"/>
<circle cx="157.24" cy="219.35" r="0.79" fill="#7a5a48" opacity="0.35"/>
<circle cx="126.13" cy="225.29" r="0.67" fill="#7a5a48" opacity="0.59"/>
<circle cx="138.91" cy="222.32" r="0.59" fill="#7a5a48" opacity="0.38"/>
<circle cx="154.46" cy="222.76" r="0.80" fill="#7a5a48" opacity="0.68"/>
<circle cx="159.29" cy="222.83" r="0.96" fill="#7a5a48" opacity="0.36"/>
<circle cx="164.67" cy="224.78" r="0.87" fill="#7a5a48" opacity="0.73"/>
<circle cx="128.20" cy="227.42" r="0.57" fill="#7a5a48" opacity="0.50"/>
<circle cx="138.70" cy="227.64" r="0.64" fill="#7a5a48" opacity="0.66"/>
<circle cx="170.60" cy="228.78" r="0.77" fill="#7a5a48" opacity="0.45"/>
<circle cx="119.01" cy="235.14" r="0.92" fill="#7a5a48" opacity="0.70"/>
<circle cx="128.38" cy="233.74" r="0.92" fill="#7a5a48" opacity="0.72"/>
<circle cx="144.28" cy="234.37" r="0.81" fill="#7a5a48" opacity="0.66"/>
<circle cx="149.74" cy="234.63" r="0.58" fill="#7a5a48" opacity="0.53"/>
<circle cx="160.11" cy="231.46" r="0.61" fill="#7a5a48" opacity="0.37"/>
<circle cx="162.98" cy="232.75" r="0.60" fill="#7a5a48" opacity="0.36"/>
<circle cx="112.26" cy="237.76" r="0.56" fill="#7a5a48" opacity="0.68"/>
<circle cx="121.20" cy="239.01" r="0.79" fill="#7a5a48" opacity="0.73"/>
<circle cx="134.17" cy="238.19" r="0.80" fill="#7a5a48" opacity="0.58"/>
<circle cx="143.20" cy="240.64" r="0.55" fill="#7a5a48" opacity="0.58"/>
<circle cx="156.13" cy="238.22" r="0.61" fill="#7a5a48" opacity="0.47"/>
<circle cx="166.64" cy="239.25" r="0.99" fill="#7a5a48" opacity="0.55"/>
<circle cx="175.06" cy="237.80" r="0.56" fill="#7a5a48" opacity="0.60"/>
<circle cx="114.02" cy="245.53" r="0.77" fill="#7a5a48" opacity="0.46"/>
<circle cx="119.94" cy="245.32" r="0.63" fill="#7a5a48" opacity="0.41"/>
<circle cx="137.77" cy="244.16" r="0.65" fill="#7a5a48" opacity="0.56"/>
<circle cx="149.52" cy="241.83" r="0.73" fill="#7a5a48" opacity="0.72"/>
<circle cx="156.12" cy="244.21" r="0.89" fill="#7a5a48" opacity="0.52"/>
<circle cx="164.62" cy="245.93" r="0.70" fill="#7a5a48" opacity="0.69"/>
<circle cx="114.01" cy="251.12" r="0.74" fill="#7a5a48" opacity="0.57"/>
<circle cx="117.89" cy="248.41" r="0.79" fill="#7a5a48" opacity="0.67"/>
<circle cx="129.67" cy="249.97" r="0.86" fill="#7a5a48" opacity="0.74"/>
<circle cx="135.83" cy="250.14" r="0.92" fill="#7a5a48" opacity="0.44"/>
<circle cx="147.46" cy="249.72" r="0.58" fill="#7a5a48" opacity="0.60"/>
<circle cx="152.16" cy="247.37" r="0.54" fill="#7a5a48" opacity="0.37"/>
<circle cx="162.99" cy="248.88" r="0.80" fill="#7a5a48" opacity="0.55"/>
<circle cx="171.95" cy="248.61" r="0.85" fill="#7a5a48" opacity="0.41"/>
<circle cx="111.59" cy="254.64" r="0.88" fill="#7a5a48" opacity="0.56"/>
<circle cx="116.19" cy="253.16" r="0.87" fill="#7a5a48" opacity="0.42"/>
<circle cx="124.10" cy="255.13" r="0.83" fill="#7a5a48" opacity="0.39"/>
<circle cx="126.54" cy="254.84" r="0.94" fill="#7a5a48" opacity="0.54"/>
<circle cx="132.67" cy="255.79" r="0.86" fill="#7a5a48" opacity="0.37"/>
<circle cx="149.87" cy="255.90" r="0.81" fill="#7a5a48" opacity="0.49"/>
<circle cx="158.79" cy="253.87" r="0.92" fill="#7a5a48" opacity="0.61"/>
<circle cx="176.22" cy="253.91" r="0.52" fill="#7a5a48" opacity="0.43"/>
<circle cx="112.61" cy="260.82" r="0.74" fill="#7a5a48" opacity="0.71"/>
<circle cx="118.46" cy="259.27" r="0.55" fill="#7a5a48" opacity="0.41"/>
<circle cx="121.50" cy="259.01" r="0.94" fill="#7a5a48" opacity="0.41"/>
<circle cx="127.15" cy="258.56" r="0.64" fill="#7a5a48" opacity="0.44"/>
<circle cx="147.31" cy="260.39" r="0.84" fill="#7a5a48" opacity="0.64"/>
<circle cx="152.72" cy="258.20" r="0.62" fill="#7a5a48" opacity="0.38"/>
<circle cx="159.04" cy="261.82" r="0.66" fill="#7a5a48" opacity="0.54"/>
<circle cx="119.21" cy="264.38" r="0.77" fill="#7a5a48" opacity="0.75"/>
<circle cx="123.19" cy="264.10" r="0.54" fill="#7a5a48" opacity="0.71"/>
<circle cx="128.26" cy="266.84" r="0.62" fill="#7a5a48" opacity="0.37"/>
<circle cx="133.02" cy="262.74" r="0.70" fill="#7a5a48" opacity="0.47"/>
<circle cx="142.40" cy="264.84" r="0.77" fill="#7a5a48" opacity="0.38"/>
<circle cx="148.23" cy="262.97" r="0.96" fill="#7a5a48" opacity="0.59"/>
<circle cx="155.97" cy="263.46" r="0.77" fill="#7a5a48" opacity="0.54"/>
<circle cx="165.76" cy="266.73" r="0.72" fill="#7a5a48" opacity="0.68"/>
<circle cx="168.61" cy="263.00" r="0.54" fill="#7a5a48" opacity="0.66"/>
<circle cx="126.18" cy="268.60" r="0.69" fill="#7a5a48" opacity="0.39"/>
<circle cx="145.12" cy="270.35" r="0.91" fill="#7a5a48" opacity="0.61"/>
<circle cx="153.21" cy="271.46" r="0.57" fill="#7a5a48" opacity="0.38"/>
<circle cx="170.17" cy="267.79" r="0.57" fill="#7a5a48" opacity="0.49"/>
<circle cx="129.36" cy="273.31" r="0.59" fill="#7a5a48" opacity="0.63"/>
<circle cx="143.72" cy="274.89" r="0.88" fill="#7a5a48" opacity="0.72"/>
<circle cx="152.44" cy="276.67" r="0.53" fill="#7a5a48" opacity="0.74"/>
<circle cx="157.31" cy="275.56" r="0.94" fill="#7a5a48" opacity="0.51"/>
<circle cx="163.37" cy="274.16" r="0.78" fill="#7a5a48" opacity="0.49"/>
</g>
<text x="144.60" y="201.60" font-size="9.8" text-anchor="middle" >ASB2</text></svg></body></html>
